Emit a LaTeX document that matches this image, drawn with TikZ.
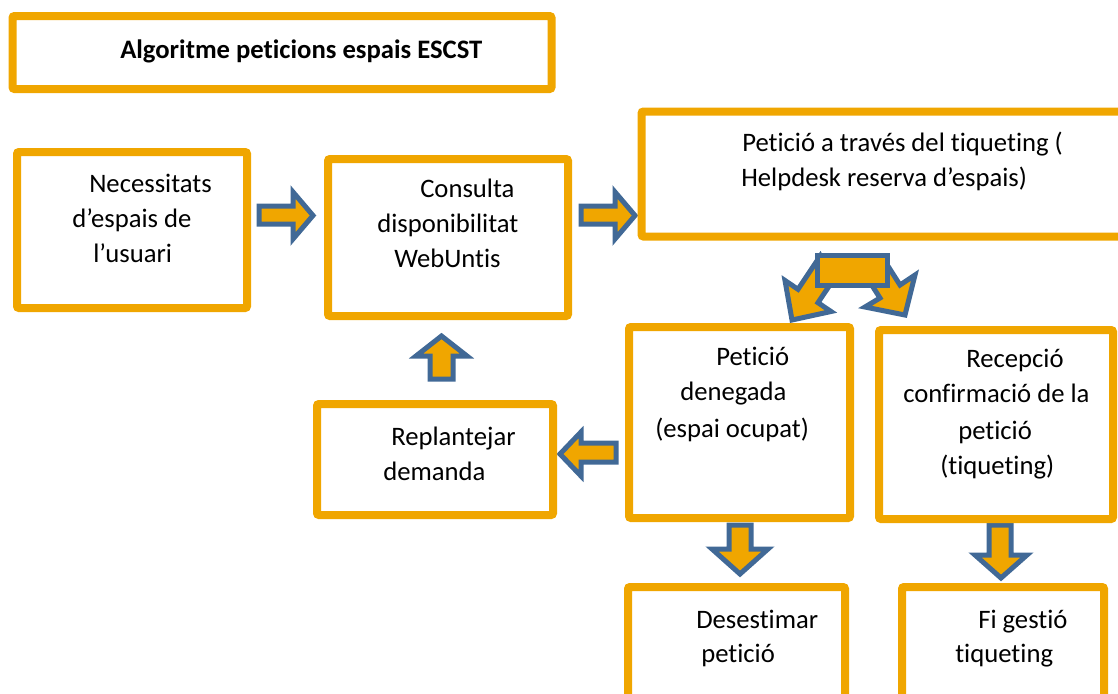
\documentclass[tikz,border=0pt]{standalone}
\usepackage{fontspec}
\setmainfont{Carlito}[Ligatures={NoCommon,NoRequired,NoContextual},Contextuals=NoAlternate]
\definecolor{boxor}{RGB}{240,166,0}
\definecolor{arrbl}{RGB}{65,105,150}
\begin{document}
\begin{tikzpicture}[x=0.75pt,y=-0.75pt,
  box/.style={draw=boxor,line width=6pt,fill=white,rounded corners=1.5pt},
  barrow/.style={draw=arrbl,fill=boxor,line width=3.75pt,line join=miter},
  lbl/.style={anchor=base west,inner sep=0pt,font=\fontsize{20}{24}\selectfont},
  lblb/.style={anchor=base west,inner sep=0pt,font=\bfseries\fontsize{20}{24}\selectfont}]
\useasboundingbox (0,0) rectangle (1118,693);
\begin{scope}
\clip (0,0) rectangle (1118,693);
% block arrows
\draw[barrow] (259,206) -- (293,206) -- (293,192) -- (313,215.5) -- (293,239) -- (293,224) -- (259,224) -- cycle;
\draw[barrow] (581,206) -- (615,206) -- (615,192) -- (635,215.5) -- (615,239) -- (615,224) -- (581,224) -- cycle;
\draw[barrow] (430,379) -- (430,356) -- (416,356) -- (441.5,336) -- (467,356) -- (453,356) -- (453,379) -- cycle;
\draw[barrow] (616,443) -- (581,443) -- (581,432) -- (560,454) -- (581,476) -- (581,462) -- (616,462) -- cycle;
\draw[barrow] (729,525) -- (751,525) -- (751,549) -- (768,549) -- (740,574) -- (712,549) -- (729,549) -- cycle;
\draw[barrow] (989,525) -- (1011,525) -- (1011,555) -- (1027,555) -- (1001,578) -- (975,555) -- (989,555) -- cycle;
% split arrow
\draw[barrow] (820.2,256) -- (798,289.3) -- (785,280.5) -- (792,320) -- (831,311.5) -- (818,302.7) -- (831.9,281.9) -- cycle;
\draw[barrow] (883.9,259.7) -- (900,285) -- (915,275) -- (905,315) -- (865,307) -- (880,298) -- (869.2,281.1) -- cycle;
\draw[barrow] (817,255) rectangle (887,285);
% boxes
\draw[box] (12.5,16) rectangle (551.5,89);
\draw[box] (17,152) rectangle (247,308);
\draw[box] (328,159) rectangle (568,316);
\draw[box] (641.5,111.5) rectangle (1140,236.5);
\draw[box] (629,327) rectangle (850,518);
\draw[box] (879,330) rectangle (1113,519);
\draw[box] (317,404) rectangle (553,515);
\draw[box] (628,587) rectangle (845,720);
\draw[box] (902,587) rectangle (1104,720);
\end{scope}
% texts
\node[lblb] (title) at (120,58) {Algoritme peticions espais ESCST};
\node[lbl] (n1a) at (89,192) {Necessitats};
\node[lbl] (n1b) at (72,227) {d’espais de};
\node[lbl] (n1c) at (93,262) {l’usuari};
\node[lbl] (n2a) at (420,197) {Consulta};
\node[lbl] (n2b) at (377,232) {disponibilitat};
\node[lbl] (n2c) at (394,267) {WebUntis};
\node[lbl] (n3a) at (742,151) {Petició a través del tiqueting (};
\node[lbl] (n3b) at (741,186) {Helpdesk reserva d’espais)};
\node[lbl] (n4a) at (716,365) {Petició};
\node[lbl] (n4b) at (680,400) {denegada};
\node[lbl] (n4c) at (655,437) {(espai ocupat)};
\node[lbl] (n5a) at (966,367) {Recepció};
\node[lbl] (n5b) at (903,402) {confirmació de la};
\node[lbl] (n5c) at (958,439) {petició};
\node[lbl] (n5d) at (940,474) {(tiqueting)};
\node[lbl] (n6a) at (391,445) {Replantejar};
\node[lbl] (n6b) at (383,480) {demanda};
\node[lbl] (n7a) at (696,628) {Desestimar};
\node[lbl] (n7b) at (701,662) {petició};
\node[lbl] (n8a) at (978,628) {Fi gestió};
\node[lbl] (n8b) at (955,662) {tiqueting};
\end{tikzpicture}
\end{document}
